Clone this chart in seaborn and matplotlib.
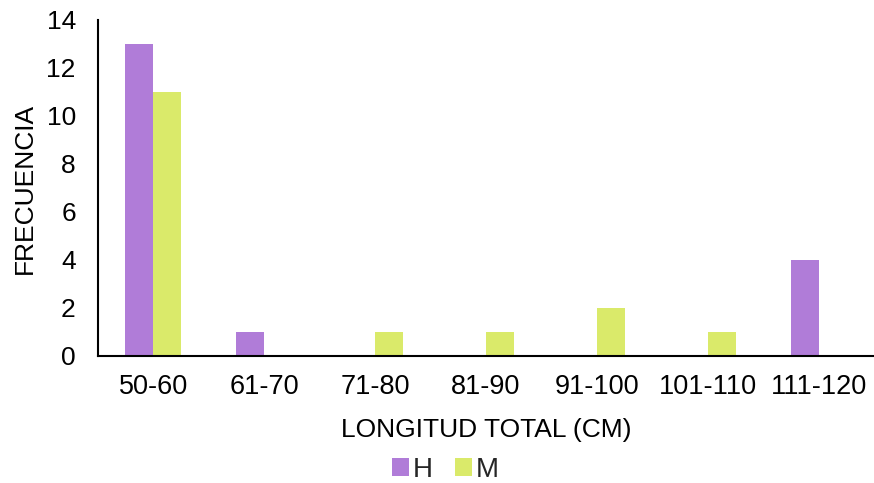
import matplotlib
matplotlib.use("Agg")
import matplotlib.pyplot as plt
import seaborn as sns
import pandas as pd

categories = ["50-60", "61-70", "71-80", "81-90", "91-100", "101-110", "111-120"]
h_values = [13, 1, 0, 0, 0, 0, 4]
m_values = [11, 0, 1, 1, 2, 1, 0]
series = ["H", "M"]
colors = ["#B07CD8", "#DAEA6A"]

df = pd.DataFrame({
    "rango": categories * 2,
    "frecuencia": h_values + m_values,
    "sexo": [series[0]] * len(categories) + [series[1]] * len(categories),
})

sns.set_theme(style="white")
plt.rcParams["font.family"] = ["Liberation Sans", "DejaVu Sans"]

fig = plt.figure(figsize=(8.74, 4.83), dpi=100)
ax = fig.add_axes([0.1121, 0.263, 0.8879, 0.6956])

sns.barplot(data=df, x="rango", y="frecuencia", hue="sexo", order=categories,
            hue_order=series, palette=colors, width=0.505, saturation=1,
            linewidth=0, ax=ax, legend=True)

ax.set_ylim(0, 14)
ax.set_xlim(-0.5, len(categories) - 0.5)
ax.set_yticks(range(0, 15, 2))
ax.tick_params(axis="both", length=0, labelsize=19, colors="black")
ax.tick_params(axis="y", pad=16)
ax.tick_params(axis="x", pad=13, labelsize=19.5)
for side in ["top", "right"]:
    ax.spines[side].set_visible(False)
for side in ["left", "bottom"]:
    ax.spines[side].set_color("black")
    ax.spines[side].set_linewidth(1.5)

ax.set_xlabel("LONGITUD TOTAL (CM)", fontsize=19, color="black", labelpad=13)
ax.set_ylabel("FRECUENCIA", fontsize=19, color="black", labelpad=7)

handles, labels = ax.get_legend_handles_labels()
ax.get_legend().remove()
fig.legend(handles, labels, loc="center", bbox_to_anchor=(0.51, 0.027),
           ncol=2, frameon=False, fontsize=20, handlelength=0.6, handleheight=0.6,
           handletextpad=0.15, columnspacing=0.8, borderaxespad=0)

fig.savefig("out.png", dpi=100)
